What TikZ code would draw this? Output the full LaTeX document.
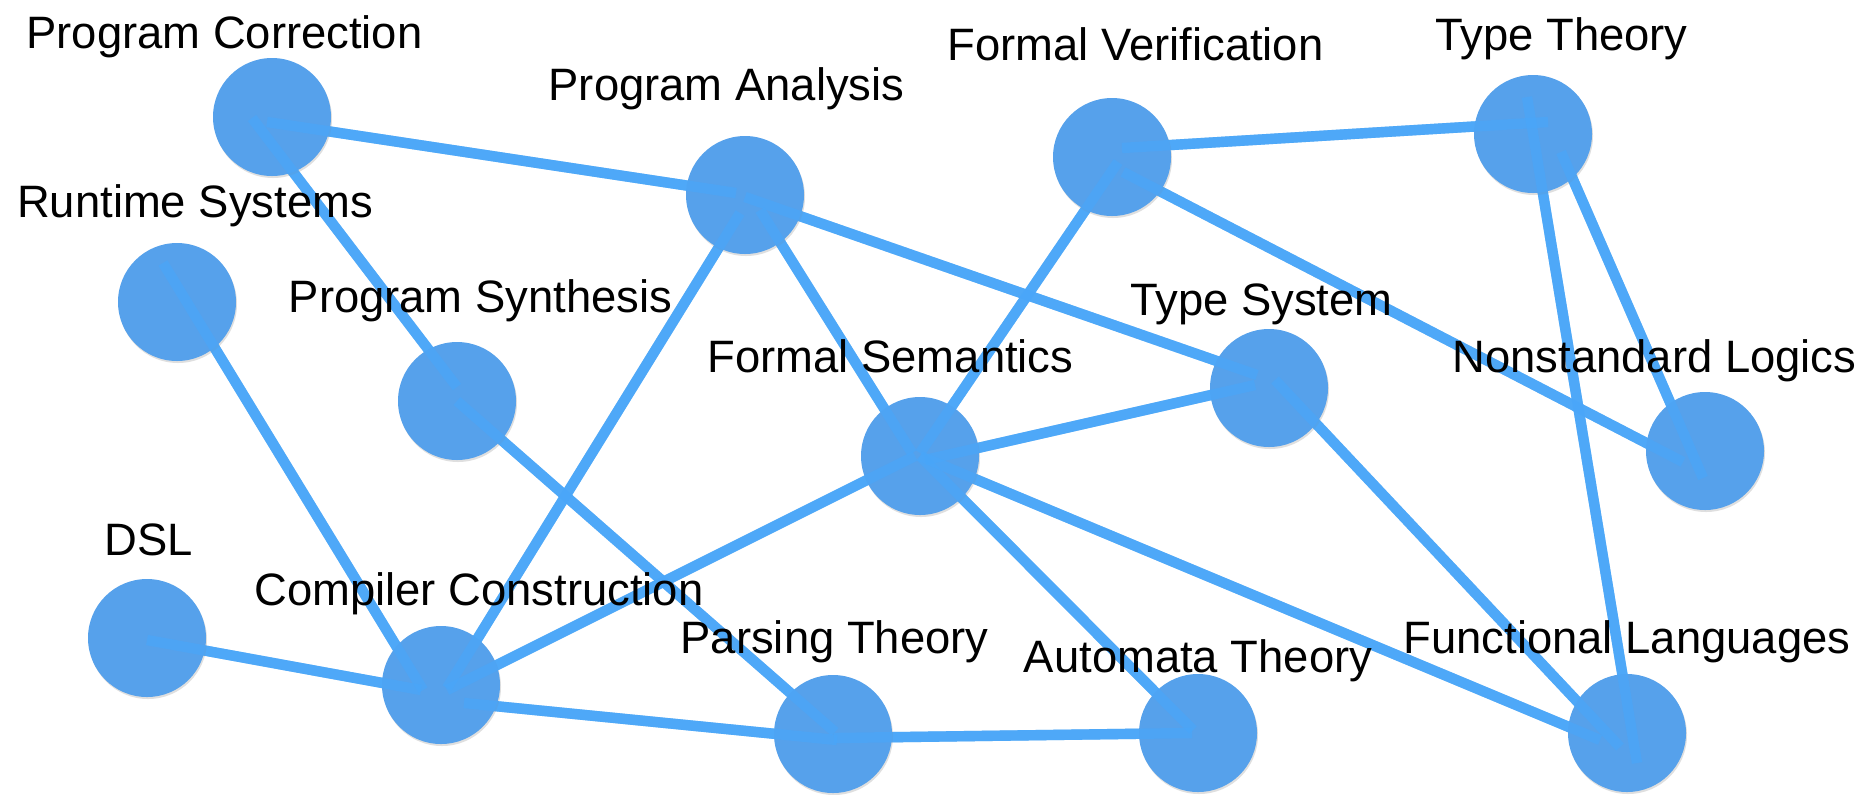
\documentclass[tikz,border=0pt]{standalone}
\usepackage{fontspec}
\setmainfont{Liberation Sans}
\usetikzlibrary{shadows}
\definecolor{nodeblue}{RGB}{86,161,235}
\definecolor{edgeblue}{RGB}{88,171,245}
\definecolor{edgetop}{RGB}{72,166,250}
\pgfdeclarelayer{bg}
\pgfdeclarelayer{fg}
\pgfsetlayers{bg,main,fg}
\tikzset{
  topic/.style={circle, fill=nodeblue, minimum size=59pt, inner sep=0pt,
    drop shadow={shadow xshift=0.5pt, shadow yshift=-1pt, opacity=0.25}},
  edge/.style={draw=edgeblue, line width=5.2pt},
  edgeover/.style={draw=edgetop, line width=5.2pt, opacity=0.6},
  lbl/.style={anchor=base, inner sep=0pt, text=black,
    font=\fontsize{22.7}{27}\selectfont}
}
\begin{document}
\begin{tikzpicture}[x=0.5pt, y=-0.5pt]
\useasboundingbox (0,0) rectangle (1868,794);

% topic circles
\node[topic] (pc)  at (272,117) {};
\node[topic] (rs)  at (177,302) {};
\node[topic] (pa)  at (745,195) {};
\node[topic] (fv)  at (1112,157) {};
\node[topic] (tt)  at (1533,134) {};
\node[topic] (ps)  at (457,401) {};
\node[topic] (fs)  at (920,456) {};
\node[topic] (ts)  at (1269,388) {};
\node[topic] (nl)  at (1705,451) {};
\node[topic] (dsl) at (147,638) {};
\node[topic] (cc)  at (441,685) {};
\node[topic] (pt)  at (833,734) {};
\node[topic] (at)  at (1198,733) {};
\node[topic] (fl)  at (1627,733) {};

% links: start node / offset / end node / offset
\def\links{pc/-5/5/pa/-9/-2, pc/-20/1/ps/0/-14, rs/-14/-39/cc/-18/5,
  pa/-5/18/cc/6/3, pa/15/15/fs/-8/-3, pa/0/2/ts/-12/-13,
  fv/10/-9/tt/15/-12, fv/6/5/fs/0/-3, fv/11/15/nl/-22/11,
  tt/28/18/nl/-2/27, tt/-6/-37/fl/10/30, ps/0/0/pt/2/-2,
  fs/5/4/ts/-14/-3, fs/-5/0/cc/6/5, fs/0/0/at/-5/-3,
  fs/0/0/fl/-27/7, ts/6/-8/fl/-7/14, dsl/0/2/cc/-20/5,
  cc/23/18/pt/4/6, pt/1/4/at/-6/0}

\begin{pgfonlayer}{bg}
\fill[white] (0,0) rectangle (1868,794);
\foreach \a/\ax/\ay/\b/\bx/\by in \links
  \draw[edge] ([shift={(\ax,\ay)}]\a.center) -- ([shift={(\bx,\by)}]\b.center);
\end{pgfonlayer}

\begin{pgfonlayer}{fg}
\foreach \a/\ax/\ay/\b/\bx/\by in \links
  \draw[edgeover] ([shift={(\ax,\ay)}]\a.center) -- ([shift={(\bx,\by)}]\b.center);

% labels
\node[lbl] (pcl)  at (224.5,48)  {Program Correction};
\node[lbl] (rsl)  at (195,217)   {Runtime Systems};
\node[lbl] (pal)  at (726.5,100) {Program Analysis};
\node[lbl] (fvl)  at (1135.5,60) {Formal Verification};
\node[lbl] (ttl)  at (1561.5,50) {Type Theory};
\node[lbl] (psl)  at (480.5,312) {Program Synthesis};
\node[lbl] (fsl)  at (890.5,372) {Formal Semantics};
\node[lbl] (tsl)  at (1261.5,315) {Type System};
\node[lbl] (nll)  at (1654.5,372) {Nonstandard Logics};
\node[lbl] (dsll) at (148.5,555) {DSL};
\node[lbl] (ccl)  at (479,605)   {Compiler Construction};
\node[lbl] (ptl)  at (834.5,653) {Parsing Theory};
\node[lbl] (atl)  at (1198,672)  {Automata Theory};
\node[lbl] (fll)  at (1627,653)  {Functional Languages};
\end{pgfonlayer}
\end{tikzpicture}
\end{document}
